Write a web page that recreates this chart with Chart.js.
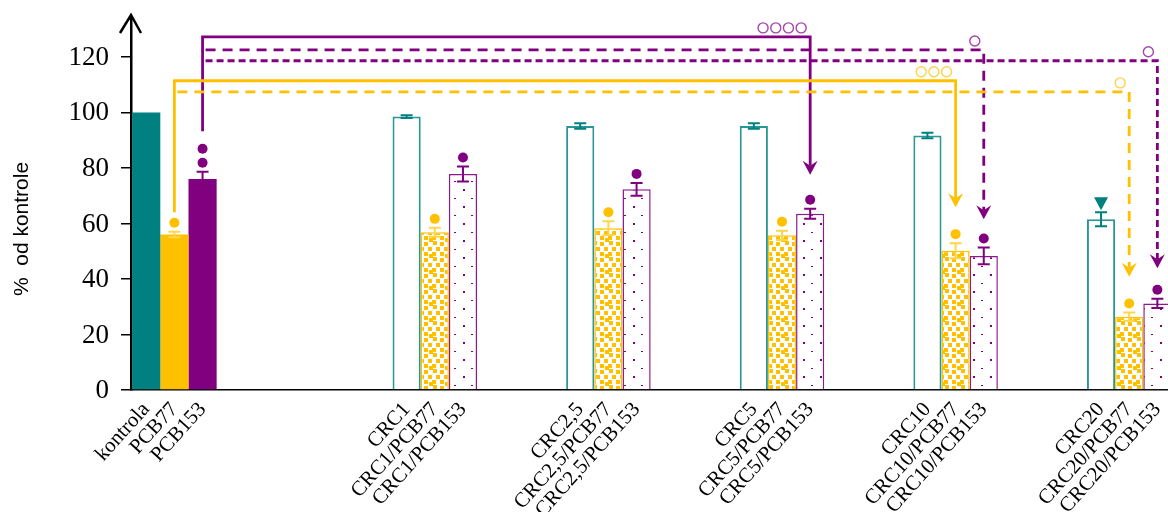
<!DOCTYPE html>
<html>
<head>
<meta charset="utf-8">
<script src="https://cdn.jsdelivr.net/npm/chart.js@4.4.1/dist/chart.umd.min.js"></script>
<style>
    html, body { margin: 0; padding: 0; background: #fff; overflow: hidden; }
    #wrap { position: relative; width: 1180px; height: 512px; }
</style>
</head>
<body>
<div id="wrap"><canvas id="chart"></canvas></div>
<script>
// ---------------------------------------------------------------------------
// Data
// ---------------------------------------------------------------------------
const groups = ['kontrola', 'CRC1', 'CRC2,5', 'CRC5', 'CRC10', 'CRC20'];
// x axis slots; blank slots are the gaps between groups
const slots = ['kontrola', '', '', 'CRC1', '', 'CRC2,5', '', 'CRC5', '', 'CRC10', '', 'CRC20'];

const labelsAlone = ['kontrola', 'CRC1', 'CRC2,5', 'CRC5', 'CRC10', 'CRC20'];
const labels77 = ['PCB77', 'CRC1/PCB77', 'CRC2,5/PCB77', 'CRC5/PCB77', 'CRC10/PCB77', 'CRC20/PCB77'];
const labels153 = ['PCB153', 'CRC1/PCB153', 'CRC2,5/PCB153', 'CRC5/PCB153', 'CRC10/PCB153', 'CRC20/PCB153'];

const valuesAlone = [100, 98.5, 95.1, 95.1, 91.7, 61.5];
const errAlone = [0, 0.5, 1, 1, 1, 2.5];
const values77 = [56, 56.8, 58.3, 55.7, 50.2, 26.4];
const err77 = [1, 1.6, 2.5, 1.7, 2.7, 1.5];
const values153 = [76, 77.8, 72.3, 63.5, 48.3, 31.2];
const err153 = [2.6, 2.7, 2.3, 1.8, 3, 1.7];

// significance marks above bars: triangles (alone) / dots (with PCB)
const marksAlone = [0, 0, 0, 0, 0, 1];
const marks77 = [1, 1, 1, 1, 1, 1];
const marks153 = [2, 1, 1, 1, 1, 1];

const yTicks = [0, 20, 40, 60, 80, 100, 120];
const yTitle = '%  od kontrole';

// comparison brackets: [dataset, group] -> [dataset, group]
const brackets = [
    { from: [2, 0], to: [2, 3], base: 93.2, level: 127.2, tip: 77.5, dash: [], rings: 4 },
    { from: [2, 0], to: [2, 4], level: 122.5, tip: 61.5, dash: [10, 7], rings: 1 },
    { from: [2, 0], to: [2, 5], level: 118.6, tip: 43.9, dash: [7, 4], rings: 1 },
    { from: [1, 0], to: [1, 4], base: 64, level: 111.4, tip: 65.8, dash: [], rings: 3 },
    { from: [1, 0], to: [1, 5], level: 107.4, tip: 40.8, dash: [10, 7], rings: 1 }
];

// ---------------------------------------------------------------------------
// Styles
// ---------------------------------------------------------------------------
const TEAL = '#008080';
const YELLOW = '#ffc000';
const PURPLE = '#800080';
const SERIF = '"Liberation Serif", "Times New Roman", serif';

function toSlots(arr) {
    const out = slots.map(() => null);
    groups.forEach((g, k) => { out[slots.indexOf(g)] = arr[k]; });
    return out;
}

function squaresPattern() {
    const c = document.createElement('canvas');
    const n = 16;
    c.width = n; c.height = n;
    const g = c.getContext('2d');
    g.fillStyle = '#fff';
    g.fillRect(0, 0, n, n);
    g.fillStyle = YELLOW;
    const sq = [[1, 1], [8, 2], [12, 7], [4, 7], [0, 12], [8, 12], [13, 14]];
    sq.forEach(([x, y]) => {
        [0, -n].forEach(dx => [0, -n].forEach(dy => g.fillRect(x + dx, y + dy, 4, 4)));
    });
    return g.createPattern(c, 'repeat');
}

function dotsPattern() {
    const c = document.createElement('canvas');
    c.width = 17; c.height = 17;
    const g = c.getContext('2d');
    g.fillStyle = '#fff';
    g.fillRect(0, 0, 17, 17);
    g.fillStyle = PURPLE;
    g.fillRect(4, 2, 2, 2);
    g.fillRect(12, 11, 2, 1);
    return g.createPattern(c, 'repeat');
}

const pat77 = squaresPattern();
const pat153 = dotsPattern();

// ---------------------------------------------------------------------------
// Overlay: error bars, marks, brackets, axis arrow, labels
// ---------------------------------------------------------------------------
const seriesInfo = [
    { labels: labelsAlone, err: errAlone, marks: marksAlone, errColor: TEAL },
    { labels: labels77, err: err77, marks: marks77, errColor: '#ffd54a', mark: YELLOW },
    { labels: labels153, err: err153, marks: marks153, errColor: PURPLE, mark: PURPLE }
];

const overlay = {
    id: 'overlay',
    afterDraw(chart) {
        const ctx = chart.ctx;
        const y = chart.scales.y;
        const area = chart.chartArea;
        const bar = (d, k) => chart.getDatasetMeta(d).data[slots.indexOf(groups[k])];
        const values = [valuesAlone, values77, values153];

        ctx.save();

        // error bars and significance marks
        seriesInfo.forEach((s, d) => {
            groups.forEach((g, k) => {
                const el = bar(d, k);
                const v = values[d][k];
                const e = s.err[k];
                let top = y.getPixelForValue(v);
                if (e > 0) {
                    const t = y.getPixelForValue(v + e);
                    const b = y.getPixelForValue(v - e);
                    ctx.strokeStyle = s.errColor;
                    ctx.lineWidth = 2;
                    ctx.setLineDash([]);
                    ctx.beginPath();
                    ctx.moveTo(el.x, t); ctx.lineTo(el.x, b);
                    ctx.moveTo(el.x - 6, t); ctx.lineTo(el.x + 6, t);
                    ctx.moveTo(el.x - 6, b); ctx.lineTo(el.x + 6, b);
                    ctx.stroke();
                    top = t;
                }
                const m = s.marks[k];
                if (!m) return;
                if (d === 0) {
                    ctx.fillStyle = TEAL;
                    ctx.beginPath();
                    ctx.moveTo(el.x, top - 2);
                    ctx.lineTo(el.x - 7, top - 15);
                    ctx.lineTo(el.x + 7, top - 15);
                    ctx.closePath();
                    ctx.fill();
                } else {
                    ctx.fillStyle = s.mark;
                    for (let i = 0; i < m; i++) {
                        ctx.beginPath();
                        ctx.arc(el.x, top - 9 - i * 14, 5, 0, Math.PI * 2);
                        ctx.fill();
                    }
                }
            });
        });

        // comparison brackets with arrows
        brackets.forEach(br => {
            const color = br.from[0] === 2 ? PURPLE : YELLOW;
            const ring = br.from[0] === 2 ? '#a545ad' : '#ffd24a';
            const x1 = bar(br.from[0], br.from[1]).x;
            const x2 = bar(br.to[0], br.to[1]).x;
            const yl = y.getPixelForValue(br.level);
            const yt = y.getPixelForValue(br.tip);
            ctx.strokeStyle = color;
            ctx.lineWidth = 2.8;
            ctx.setLineDash(br.dash);
            ctx.beginPath();
            if (br.base !== undefined) {
                ctx.moveTo(x1, y.getPixelForValue(br.base));
                ctx.lineTo(x1, yl);
            } else {
                ctx.moveTo(x1 + 3, yl);
            }
            ctx.lineTo(x2, yl);
            ctx.lineTo(x2, yt - 9);
            ctx.stroke();
            ctx.setLineDash([]);
            ctx.fillStyle = color;
            ctx.beginPath();
            ctx.moveTo(x2, yt);
            ctx.lineTo(x2 - 7.5, yt - 14);
            ctx.lineTo(x2, yt - 9);
            ctx.lineTo(x2 + 7.5, yt - 14);
            ctx.closePath();
            ctx.fill();
            ctx.strokeStyle = ring;
            ctx.lineWidth = 1.4;
            for (let i = 0; i < br.rings; i++) {
                ctx.beginPath();
                ctx.arc(x2 - 9 - i * 12.7, yl - 9, 5, 0, Math.PI * 2);
                ctx.stroke();
            }
        });

        // y axis arrow
        ctx.strokeStyle = '#000';
        ctx.lineWidth = 2.5;
        ctx.setLineDash([]);
        ctx.beginPath();
        ctx.moveTo(area.left, area.top + 2);
        ctx.lineTo(area.left, area.top - 3);
        ctx.moveTo(area.left - 11, area.top + 15);
        ctx.lineTo(area.left, area.top - 3);
        ctx.lineTo(area.left + 10, area.top + 15);
        ctx.stroke();

        // y tick labels
        ctx.fillStyle = '#000';
        ctx.font = '27px ' + SERIF;
        ctx.textAlign = 'right';
        ctx.textBaseline = 'middle';
        yTicks.forEach(v => ctx.fillText(String(v), area.left - 22, y.getPixelForValue(v) + 1));

        // y axis title
        ctx.font = '21px "Liberation Sans", Arial, sans-serif';
        ctx.textAlign = 'center';
        ctx.save();
        ctx.translate(22, y.getPixelForValue(58));
        ctx.rotate(-Math.PI / 2);
        ctx.fillText(yTitle, 0, 0);
        ctx.restore();

        // rotated bar labels
        ctx.font = '21px ' + SERIF;
        ctx.textAlign = 'right';
        ctx.textBaseline = 'middle';
        seriesInfo.forEach((s, d) => {
            groups.forEach((g, k) => {
                const el = bar(d, k);
                ctx.save();
                ctx.translate(el.x, area.bottom + 16);
                ctx.rotate(-48 * Math.PI / 180);
                ctx.fillText(s.labels[k], 0, 0);
                ctx.restore();
            });
        });

        ctx.restore();
    }
};

// ---------------------------------------------------------------------------
// Chart
// ---------------------------------------------------------------------------
const first = c => c.dataIndex === 0;

new Chart(document.getElementById('chart').getContext('2d'), {
    type: 'bar',
    data: {
        labels: slots,
        datasets: [
            {
                data: toSlots(valuesAlone),
                backgroundColor: c => first(c) ? TEAL : '#ffffff',
                borderColor: '#2a9696',
                borderWidth: c => first(c) ? 0 : 2
            },
            {
                data: toSlots(values77),
                backgroundColor: c => first(c) ? YELLOW : pat77,
                borderColor: YELLOW,
                borderWidth: c => first(c) ? 0 : 1.5
            },
            {
                data: toSlots(values153),
                backgroundColor: c => first(c) ? PURPLE : pat153,
                borderColor: '#8c1a8c',
                borderWidth: c => first(c) ? 0 : 1.5
            }
        ]
    },
    options: {
        responsive: true,
        maintainAspectRatio: false,
        animation: false,
        datasets: { bar: { categoryPercentage: 0.9735, barPercentage: 1 } },
        layout: { padding: { top: 18, right: 7.4, left: 0, bottom: 0 } },
        plugins: { legend: { display: false }, tooltip: { enabled: false } },
        scales: {
            x: {
                type: 'category',
                grid: { display: false },
                ticks: { display: false },
                border: { display: true, color: '#000', width: 1.5 },
                afterFit: s => { s.height = 122; }
            },
            y: {
                min: 0,
                max: 134,
                afterBuildTicks: s => { s.ticks = yTicks.map(v => ({ value: v })); },
                afterFit: s => { s.width = 131; s.paddingTop = 0; s.paddingBottom = 0; },
                grid: { display: true, drawOnChartArea: false, drawTicks: true, tickLength: 10, color: '#000', lineWidth: 1.5 },
                border: { display: true, color: '#000', width: 2.5 },
                ticks: { color: 'rgba(0,0,0,0)', padding: 12, font: { family: SERIF, size: 27 } }
            }
        }
    },
    plugins: [overlay]
});
</script>
</body>
</html>
